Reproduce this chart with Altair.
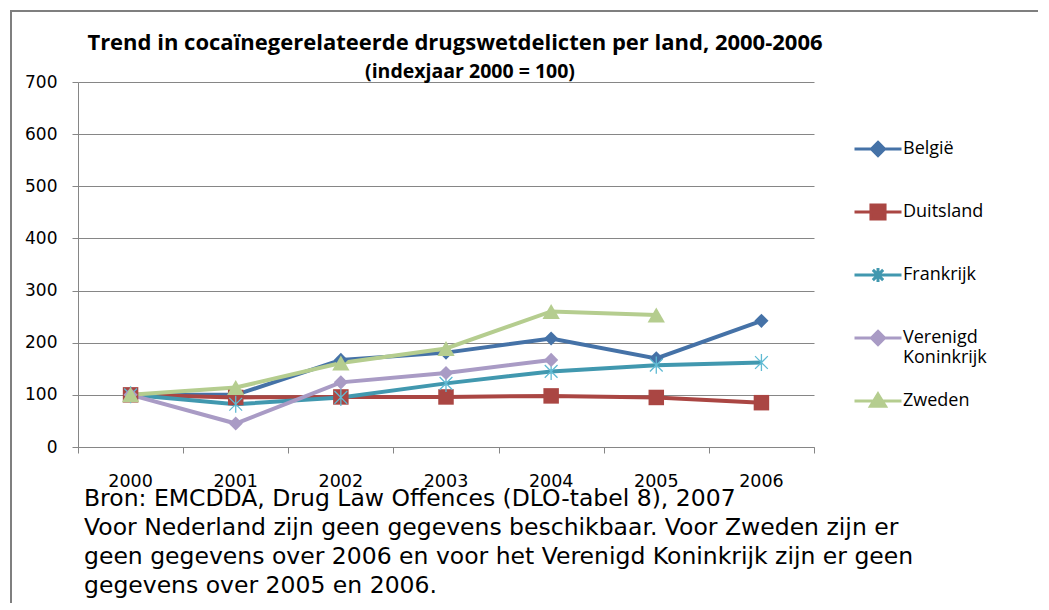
import altair as alt
import pandas as pd

# ---- data ----
years = [2000, 2001, 2002, 2003, 2004, 2005, 2006]
countries = ["België", "Duitsland", "Frankrijk", "Verenigd Koninkrijk", "Zweden"]
belgie = [100, 100, 167, 181, 208, 170, 242]
duitsland = [100, 95, 96, 96, 98, 95, 85]
frankrijk = [100, 82, 95, 122, 145, 157, 162]
verenigd_koninkrijk = [100, 45, 124, 142, 167, None, None]
zweden = [100, 114, 161, 189, 260, 253, None]
series = [belgie, duitsland, frankrijk, verenigd_koninkrijk, zweden]

y_ticks = [0, 100, 200, 300, 400, 500, 600, 700]
title_lines = ["Trend in cocaïnegerelateerde drugswetdelicten per land, 2000-2006",
               "(indexjaar 2000 = 100)"]
source_lines = ["Bron: EMCDDA, Drug Law Offences (DLO-tabel 8), 2007",
                "Voor Nederland zijn geen gegevens beschikbaar. Voor Zweden zijn er",
                "geen gegevens over 2006 en voor het Verenigd Koninkrijk zijn er geen",
                "gegevens over 2005 en 2006."]

colors = ["#4572A7", "#AA4643", "#4198AF", "#A99BC5", "#B5CD8F"]

rows = []
for c, vals in zip(countries, series):
    for yr, v in zip(years, vals):
        if v is not None:
            rows.append({"land": c, "jaar": yr, "waarde": v})
df = pd.DataFrame(rows)
df_years = pd.DataFrame({"jaar": years})
one = pd.DataFrame({"a": [0]})

W, H = 736, 365
GRID = "#868686"

xscale = alt.Scale(domain=[1999.5, 2006.5], nice=False, zero=False)
yscale = alt.Scale(domain=[0, 700], nice=False)
cscale = alt.Scale(domain=countries, range=colors)

X = alt.X("jaar:Q", scale=xscale,
          axis=alt.Axis(values=[y - 0.5 for y in years] + [years[-1] + 0.5], labels=False,
                        tickSize=6, tickColor=GRID, domainColor=GRID, grid=False, title=None))
Y = alt.Y("waarde:Q", scale=yscale,
          axis=alt.Axis(values=y_ticks, grid=True, gridColor=GRID, gridWidth=1, tickSize=6,
                        tickColor=GRID, domainColor=GRID, labelFont="DejaVu Sans",
                        labelFontSize=17, labelColor="#000000", labelPadding=15, title=None))

base = alt.Chart(df)

lines = base.mark_line(strokeWidth=4).encode(
    x=X, y=Y, color=alt.Color("land:N", scale=cscale, legend=None))

star_path = "M0,-1V1M-0.75,-0.75L0.75,0.75M-0.75,0.75L0.75,-0.75"
point_styles = {
    "België": dict(shape="diamond", size=200, filled=True),
    "Duitsland": dict(shape="square", size=240, filled=True),
    "Frankrijk": dict(shape=star_path, size=290, filled=False, strokeWidth=1.3, color="#5FBAD3"),
    "Verenigd Koninkrijk": dict(shape="diamond", size=200, filled=True),
    "Zweden": dict(shape="triangle-up", size=300, filled=True),
}
point_layers = []
for c in countries:
    st = dict(point_styles[c])
    fixed_color = st.pop("color", None)
    enc = dict(x=X, y=Y)
    if fixed_color is None:
        enc["color"] = alt.Color("land:N", scale=cscale, legend=None)
    else:
        st["color"] = fixed_color
    point_layers.append(
        base.mark_point(opacity=1, **st).encode(**enc).transform_filter(alt.datum.land == c))

# legend: line + marker symbol paths (the trailing move keeps every entry equally tall)
legend_paths = [
    "M-1,0H1M0,-0.28L0.28,0L0,0.28L-0.28,0ZM0,1.35",
    "M-1,0H1M-0.3,-0.3H0.3V0.3H-0.3ZM0,1.35",
    "M-1,0H1M0,-0.3V0.3M-0.22,-0.22L0.22,0.22M-0.22,0.22L0.22,-0.22M0,1.35",
    "M-1,0H1M0,-0.28L0.28,0L0,0.28L-0.28,0ZM0,1.35",
    "M-1,0H1M0,-0.3L0.32,0.22H-0.32ZM0,1.35",
]
leg = alt.Legend(orient="none", legendX=775, legendY=42, title=None, padding=0,
                 symbolSize=2209, symbolStrokeWidth=3, labelFont="Open Sans", labelFontSize=18,
                 labelColor="#000000", labelOffset=0, rowPadding=0, labelLimit=300,
                 labelExpr="datum.label == 'Verenigd Koninkrijk' ? ['Verenigd', 'Koninkrijk'] : datum.label")
legend_layer = base.mark_point(filled=True, opacity=1).encode(
    x=X, y=Y,
    color=alt.Color("land:N", scale=cscale, legend=leg),
    stroke=alt.Stroke("land:N", scale=cscale, legend=leg),
    shape=alt.Shape("land:N", scale=alt.Scale(domain=countries, range=legend_paths), legend=leg),
).transform_filter("false")

year_labels = alt.Chart(df_years).mark_text(
    font="DejaVu Sans", fontSize=17.5, color="#000000", baseline="middle").encode(
    x=alt.X("jaar:Q", scale=xscale), y=alt.value(399.5), text=alt.Text("jaar:Q", format="d"))

title1 = alt.Chart(one).mark_text(font="Open Sans", fontSize=22, fontWeight="bold",
                                   color="#000000", baseline="middle").encode(
    x=alt.value(377), y=alt.value(-39), text=alt.value(title_lines[0]))
title2 = alt.Chart(one).mark_text(font="Open Sans", fontSize=19.5, fontWeight="bold",
                                   color="#000000", baseline="middle").encode(
    x=alt.value(392), y=alt.value(-10), text=alt.value(title_lines[1]))

source = alt.Chart(one).mark_text(font="DejaVu Sans", fontSize=23.5, color="#000000",
                                   align="left", baseline="alphabetic", lineHeight=29).encode(
    x=alt.value(6), y=alt.value(424), text=alt.value(source_lines))

frame = alt.Chart(one).mark_rect(fill="transparent", stroke="#7F7F7F", strokeWidth=2).encode(
    x=alt.value(-67), x2=alt.value(1300), y=alt.value(-71), y2=alt.value(900))

chart = alt.layer(
    frame, legend_layer, lines, *point_layers, year_labels, title1, title2, source
).properties(
    width=W, height=H,
    autosize=alt.AutoSizeParams(type="none"),
    padding={"left": 70, "top": 74, "right": 224, "bottom": 156},
).configure_view(strokeWidth=0)

chart.save("out.html", embed_options={"renderer": "svg", "actions": False})
